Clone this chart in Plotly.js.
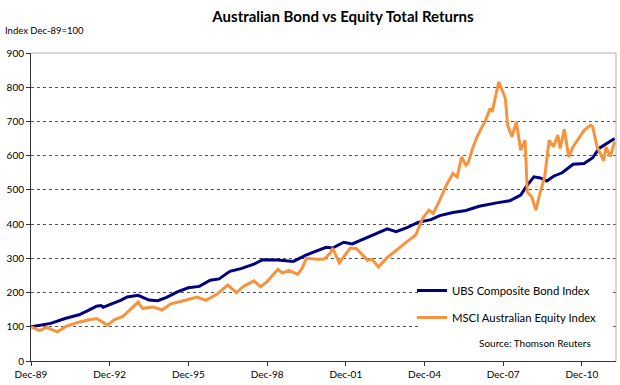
<!DOCTYPE html>
<html>
<head>
<meta charset="utf-8">
<script src="https://cdn.plot.ly/plotly-3.0.1.min.js"></script>
<style>
  html, body { margin: 0; padding: 0; background: #fff; }
  #chart { width: 620px; height: 385px; }
</style>
</head>
<body>
<div id="chart"></div>
<script>
// ---- Data ----
const bondName = "UBS Composite Bond Index";
const equityName = "MSCI Australian Equity Index";

const bondDates = ["1989-12","1990-09","1991-04","1991-10","1992-02","1992-06","1992-08","1992-09","1992-12",
  "1993-05","1993-08","1994-01","1994-06","1994-10","1995-02","1995-07","1995-12","1996-05","1996-10",
  "1997-02","1997-07","1997-12","1998-06","1998-10","1999-05","1999-12","2000-06","2000-12","2001-03",
  "2001-06","2001-11","2002-03","2002-06","2002-11","2003-04","2003-07","2003-11","2004-04","2004-09",
  "2005-03","2005-07","2006-01","2006-07","2007-01","2007-09","2008-03","2008-08","2008-11","2009-02",
  "2009-05","2009-08","2009-11","2010-03","2010-08","2011-01","2011-05","2011-08","2012-01","2012-03"];
const bondValues = [100,110,125,135,147,160,162,157,165,
  177,187,192,178,176,186,202,214,218,236,
  240,262,270,283,296,295,291,310,325,332,
  330,347,342,350,365,377,386,378,390,405,
  413,425,434,440,452,462,468,485,514,538,
  535,526,540,550,575,577,594,622,642,650];

const equityDates = ["1989-12","1990-04","1990-07","1990-10","1990-12","1991-04","1991-09","1992-02","1992-06",
  "1992-11","1993-02","1993-06","1993-09","1994-01","1994-03","1994-08","1994-12","1995-04","1995-08",
  "1996-01","1996-04","1996-08","1997-01","1997-06","1997-10","1998-01","1998-06","1998-09","1998-12",
  "1999-05","1999-07","1999-10","2000-02","2000-04","2000-06","2000-11","2001-02","2001-05","2001-06",
  "2001-09","2002-02","2002-05","2002-10","2002-12","2003-03","2003-07","2003-11","2004-04","2004-08",
  "2004-11","2005-02","2005-04","2005-07","2005-10","2006-01","2006-03","2006-05","2006-07","2006-08",
  "2006-10","2006-12","2007-04","2007-06","2007-07","2007-10","2008-01","2008-02","2008-04","2008-06",
  "2008-08","2008-10","2008-11","2009-01","2009-03","2009-05","2009-07","2009-09","2009-11","2010-01",
  "2010-02","2010-04","2010-06","2010-08","2010-10","2011-01","2011-04","2011-05","2011-07","2011-10",
  "2011-11","2012-01","2012-03"];
const equityValues = [100,89,98,90,85,101,112,120,124,
  105,120,130,149,172,154,158,149,167,173,
  182,187,177,195,222,200,217,234,217,232,
  268,257,265,253,271,300,297,298,315,330,
  287,330,328,294,297,275,302,324,349,368,
  416,441,431,470,514,548,538,596,572,579,
  621,655,704,738,728,816,767,689,655,699,
  616,645,494,480,441,494,538,645,626,660,
  621,677,596,626,645,674,689,684,626,585,
  626,597,641];

const tickDates = ["1989-12-01","1992-12-01","1995-12-01","1998-12-01","2001-12-01","2004-12-01","2007-12-01","2010-12-01"];
const tickLabels = ["Dec-89","Dec-92","Dec-95","Dec-98","Dec-01","Dec-04","Dec-07","Dec-10"];

const titleText = "Australian Bond vs Equity Total Returns";
const yNote = "Index Dec-89=100";
const sourceText = "Source: Thomson Reuters";

// ---- Chart ----
const FONT = "Lato, 'Liberation Sans', sans-serif";

const traces = [
  { x: bondDates, y: bondValues, name: bondName, type: "scatter", mode: "lines", legendgroup: "g1",
    line: { color: "#000080", width: 3 } },
  { x: equityDates, y: equityValues, name: equityName, type: "scatter", mode: "lines", legendgroup: "g2",
    line: { color: "#F7933C", width: 3 } }
];

const layout = {
  width: 620, height: 385,
  margin: { l: 31, r: 4, t: 53, b: 24 },
  paper_bgcolor: "#fff", plot_bgcolor: "#fff",
  font: { family: FONT, color: "#000", size: 10 },
  showlegend: true,
  title: { text: "<b>" + titleText + "</b>", x: 343 / 620, xanchor: "center", xref: "container",
           y: 1 - 17 / 385, yanchor: "middle", yref: "container",
           font: { family: FONT, size: 15, color: "#000" } },
  xaxis: {
    type: "date",
    range: ["1989-12-01", "2012-03-20"],
    tickvals: tickDates, ticktext: tickLabels,
    ticks: "outside", ticklen: 4, tickcolor: "#333",
    showline: true, linecolor: "#333", linewidth: 1,
    showgrid: false, zeroline: false,
    tickfont: { size: 10, family: FONT }
  },
  yaxis: {
    range: [0, 900], dtick: 100, tick0: 0,
    ticks: "outside", ticklen: 4, tickcolor: "#333",
    showline: true, linecolor: "#333", linewidth: 1,
    showgrid: true, gridcolor: "#555", griddash: "dot", gridwidth: 1,
    zeroline: false,
    tickfont: { size: 10, family: FONT }
  },
  legend: {
    x: (412 - 31) / 585, y: (361 - 276) / 308, xanchor: "left", yanchor: "top",
    bgcolor: "rgba(0,0,0,0)", borderwidth: 0,
    font: { size: 11.3, family: FONT },
    tracegroupgap: 8, itemwidth: 30
  },
  shapes: [
    { type: "rect", xref: "paper", yref: "paper", x0: (418 - 31) / 585, x1: (610 - 31) / 585,
      y0: (361 - 352) / 308, y1: (361 - 277) / 308, fillcolor: "#fff", line: { width: 0 }, layer: "above" },
    { type: "line", xref: "paper", yref: "paper", x0: 0, x1: 1, y0: 1, y1: 1,
      line: { color: "#b0b0b0", width: 1 }, layer: "above" },
    { type: "line", xref: "paper", yref: "paper", x0: 1, x1: 1, y0: 0, y1: 1,
      line: { color: "#b0b0b0", width: 1 }, layer: "above" }
  ],
  annotations: [
    { text: yNote, xref: "paper", yref: "paper", x: -28 / 585, y: (361 - 30) / 308,
      xanchor: "left", yanchor: "middle", showarrow: false, font: { size: 9.5, family: FONT } },
    { text: sourceText, xref: "paper", yref: "paper", x: (593 - 31) / 585, y: (361 - 343) / 308,
      xanchor: "right", yanchor: "middle", showarrow: false, font: { size: 10, family: FONT } }
  ],
  hovermode: false
};

Plotly.newPlot("chart", traces, layout, { displayModeBar: false, staticPlot: true });
</script>
</body>
</html>
